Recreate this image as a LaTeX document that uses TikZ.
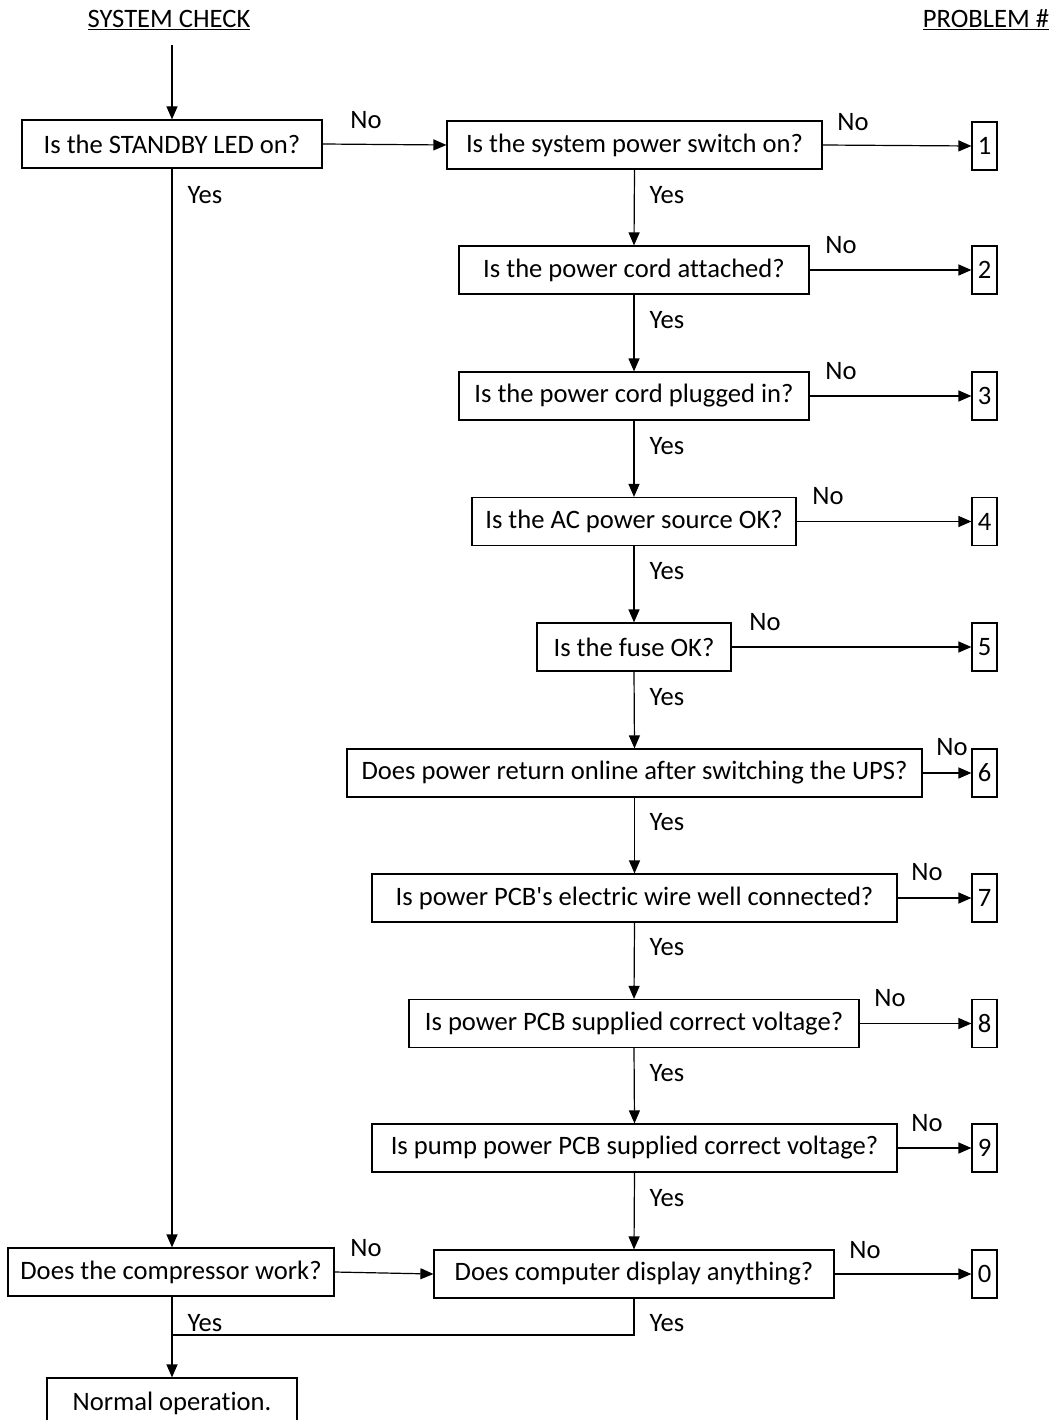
\documentclass[tikz,border=0pt]{standalone}
\usepackage{fontspec}
\setmainfont[Ligatures={NoCommon}]{Carlito}
\usetikzlibrary{arrows.meta}
\begin{document}
\begin{tikzpicture}[x=1pt,y=-1pt,
  box/.style={draw,line width=1.2pt,minimum height=48pt,inner sep=0pt,font=\fontsize{26.6}{30}\selectfont},
  num/.style={draw,line width=1.2pt,minimum height=48pt,minimum width=25pt,inner sep=0pt,font=\fontsize{26.6}{30}\selectfont},
  lbl/.style={font=\fontsize{26.6}{30}\selectfont,inner sep=0pt},
  arr/.style={line width=1.2pt,-{Triangle[length=13pt,width=11pt]}},
  ln/.style={line width=1.2pt}]
\clip (0,0) rectangle (1056,1420);
\node[lbl] (hs) at (169,20) {\underline{SYSTEM CHECK}};
\node[lbl] (hp) at (986,20) {\underline{PROBLEM \#}};
\coordinate (top) at (172,45);
% left column
\node[box,minimum width=300pt] (a) at (172,144) {Is the STANDBY LED on?};
\node[box,minimum width=326pt] (c) at (171,1272) {Does the compressor work?};
\node[box,minimum width=250pt,minimum height=50pt] (n) at (172,1403) {Normal operation.};
% right column
\node[box,minimum width=375pt] (b1) at (634.5,145) {Is the system power switch on?};
\node[box,minimum width=350pt] (b2) at (634,270) {Is the power cord attached?};
\node[box,minimum width=350pt] (b3) at (634,396) {Is the power cord plugged in?};
\node[box,minimum width=324pt] (b4) at (634,521.5) {Is the AC power source OK?};
\node[box,minimum width=194pt] (b5) at (634,647) {Is the fuse OK?};
\node[box,minimum width=575pt] (b6) at (634.5,773) {Does power return online after switching the UPS?};
\node[box,minimum width=525pt] (b7) at (634.5,898) {Is power PCB\textquotesingle s electric wire well connected?};
\node[box,minimum width=450pt] (b8) at (634,1023.5) {Is power PCB supplied correct voltage?};
\node[box,minimum width=525pt] (b9) at (634.5,1148) {Is pump power PCB supplied correct voltage?};
\node[box,minimum width=400pt] (b0) at (634,1274) {Does computer display anything?};
% problem numbers
\node[num] (p1) at (984.5,146) {1};
\node[num] (p2) at (984.5,270) {2};
\node[num] (p3) at (984.5,396) {3};
\node[num] (p4) at (984.5,521.5) {4};
\node[num] (p5) at (984.5,647) {5};
\node[num] (p6) at (984.5,773) {6};
\node[num] (p7) at (984.5,898) {7};
\node[num] (p8) at (984.5,1023.5) {8};
\node[num] (p9) at (984.5,1148) {9};
\node[num] (p0) at (984.5,1274) {0};
% connectors
\draw[arr] (top) -- (a.north);
\draw[arr] (a.east) -- (b1.west);
\draw[arr] (a.south) -- (c.north -| a.south);
\draw[arr] (c.east) -- (b0.west);
\draw[arr] (c.south -| a.south) -- (n.north);
\coordinate (j1) at (634,1335);
\coordinate (j2) at (172,1335);
\draw[ln] (b0.south) -- (j1) -- (j2);
\foreach \u/\v in {b1/b2,b2/b3,b3/b4,b4/b5,b5/b6,b6/b7,b7/b8,b8/b9,b9/b0}
  \draw[arr] (\u.south) -- (\v.north);
\foreach \u/\v in {b1/p1,b2/p2,b3/p3,b4/p4,b5/p5,b6/p6,b7/p7,b8/p8,b9/p9,b0/p0}
  \draw[arr] (\u.east) -- (\v.west);
% labels
\node[lbl] at (366,120) {No};
\node[lbl] at (205,195) {Yes};
\node[lbl] at (366,1248) {No};
\node[lbl] at (205,1323) {Yes};
\node[lbl] at (667,1323) {Yes};
\node[lbl] at (853,122) {No};
\node[lbl] at (841,245) {No};
\node[lbl] at (841,371) {No};
\node[lbl] at (828,496) {No};
\node[lbl] at (765,622) {No};
\node[lbl] at (952,747) {No};
\node[lbl] at (927,872) {No};
\node[lbl] at (890,998) {No};
\node[lbl] at (927,1123) {No};
\node[lbl] at (865,1250) {No};
\foreach \y in {195,320,446,571,697,822,947,1073,1198}
  \node[lbl] at (667,\y) {Yes};
\end{tikzpicture}
\end{document}
